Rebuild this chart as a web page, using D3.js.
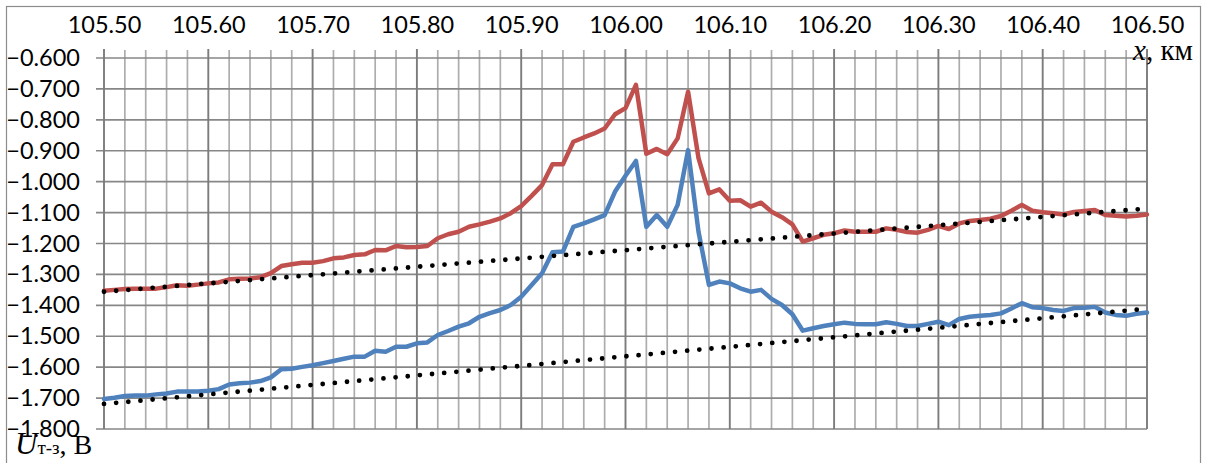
<!DOCTYPE html>
<html>
<head>
<meta charset="utf-8">
<script src="https://cdn.jsdelivr.net/npm/d3@7"></script>
<style>
  html, body { margin: 0; padding: 0; background: #fff; }
  svg { display: block; }
</style>
</head>
<body>
<svg id="chart" width="1208" height="463"></svg>
<script>
// Distance along the line, km (step 0.01 km)
const distanceKm = d3.range(0, 101).map(i => +(105.5 + i * 0.01).toFixed(2));

// Pipe-to-soil potential U т-з, V — upper (red) series
const seriesUpper = [
  -1.353, -1.350, -1.347, -1.346, -1.346, -1.346, -1.341, -1.335, -1.337, -1.333,
  -1.329, -1.326, -1.316, -1.314, -1.313, -1.309, -1.296, -1.273, -1.267, -1.262,
  -1.262, -1.257, -1.248, -1.245, -1.237, -1.235, -1.221, -1.222, -1.208, -1.212,
  -1.211, -1.208, -1.183, -1.170, -1.162, -1.146, -1.138, -1.129, -1.119, -1.102,
  -1.079, -1.046, -1.011, -0.944, -0.944, -0.871, -0.857, -0.844, -0.828, -0.782,
  -0.762, -0.687, -0.910, -0.894, -0.911, -0.860, -0.709, -0.924, -1.038, -1.025,
  -1.062, -1.060, -1.081, -1.068, -1.097, -1.115, -1.138, -1.194, -1.183, -1.172,
  -1.167, -1.158, -1.162, -1.162, -1.162, -1.151, -1.156, -1.163, -1.165, -1.156,
  -1.143, -1.153, -1.135, -1.127, -1.124, -1.120, -1.111, -1.094, -1.075, -1.094,
  -1.099, -1.102, -1.106, -1.098, -1.095, -1.092, -1.108, -1.110, -1.113, -1.110,
  -1.106
];

// Lower (blue) series
const seriesLower = [
  -1.703, -1.699, -1.693, -1.692, -1.692, -1.688, -1.685, -1.679, -1.679, -1.679,
  -1.676, -1.671, -1.656, -1.652, -1.650, -1.645, -1.633, -1.607, -1.605, -1.599,
  -1.594, -1.587, -1.580, -1.573, -1.566, -1.566, -1.547, -1.550, -1.534, -1.534,
  -1.523, -1.520, -1.496, -1.483, -1.469, -1.458, -1.437, -1.425, -1.415, -1.399,
  -1.372, -1.334, -1.296, -1.228, -1.226, -1.146, -1.135, -1.122, -1.108, -1.032,
  -0.981, -0.933, -1.146, -1.108, -1.146, -1.075, -0.898, -1.162, -1.334, -1.323,
  -1.329, -1.345, -1.356, -1.350, -1.379, -1.399, -1.429, -1.482, -1.474, -1.467,
  -1.461, -1.456, -1.460, -1.461, -1.461, -1.455, -1.460, -1.467, -1.467, -1.460,
  -1.453, -1.464, -1.444, -1.437, -1.434, -1.431, -1.426, -1.410, -1.393, -1.406,
  -1.409, -1.415, -1.418, -1.409, -1.408, -1.405, -1.423, -1.431, -1.434, -1.427,
  -1.423
];

// Linear trend lines: values at the start and end of the section
const trendKm = [105.5, 106.5];
const trendUpper = [-1.356, -1.087];
const trendLower = [-1.719, -1.411];

// Axis ticks
const xMajorTicks = d3.range(0, 11).map(i => +(105.5 + i * 0.1).toFixed(2));
const xMinorTicks = d3.range(0, 51).map(i => +(105.5 + i * 0.02).toFixed(2));
const yTicks = d3.range(0, 13).map(i => +(-1.8 + i * 0.1).toFixed(1));

const svg = d3.select("#chart");

const x = d3.scaleLinear().domain([105.5, 106.5]).range([104, 1147]);
const y = d3.scaleLinear().domain([-1.8, -0.6]).range([429, 58]);

// outer frame
svg.append("rect")
  .attr("x", 6.5).attr("y", 6.5)
  .attr("width", 1194).attr("height", 470)
  .attr("fill", "#fff").attr("stroke", "#8c8c8c").attr("stroke-width", 1.2);

const grid = svg.append("g");

// minor vertical grid
grid.selectAll("line.vminor")
  .data(xMinorTicks.filter((d, i) => i % 5 !== 0))
  .join("line")
  .attr("x1", d => x(d)).attr("x2", d => x(d))
  .attr("y1", y(-0.6) - 8).attr("y2", y(-1.8))
  .attr("stroke", "#adadad").attr("stroke-width", 1.7);

// horizontal grid with short ticks on the left
grid.selectAll("line.h")
  .data(yTicks)
  .join("line")
  .attr("x1", x(105.5) - 8).attr("x2", x(106.5))
  .attr("y1", d => y(d)).attr("y2", d => y(d))
  .attr("stroke", "#878787").attr("stroke-width", 1.7);

// major vertical grid
grid.selectAll("line.vmajor")
  .data(xMajorTicks)
  .join("line")
  .attr("x1", d => x(d)).attr("x2", d => x(d))
  .attr("y1", y(-0.6) - 9).attr("y2", y(-1.8))
  .attr("stroke", "#7c7c7c").attr("stroke-width", 1.9);

// top axis labels
const xAxis = d3.axisTop(x)
  .tickValues(xMajorTicks)
  .tickFormat(d3.format(".2f"))
  .tickSize(0)
  .tickPadding(25);
const gx = svg.append("g").attr("transform", `translate(0,${y(-0.6)})`).call(xAxis);
gx.select(".domain").remove();
gx.selectAll("text")
  .attr("font-family", "Lato, 'Open Sans', sans-serif")
  .attr("font-size", 23.5)
  .attr("fill", "#000");

// left axis labels
const yAxis = d3.axisLeft(y)
  .tickValues(yTicks)
  .tickFormat(d3.format(".3f"))
  .tickSize(0)
  .tickPadding(24);
const gy = svg.append("g").attr("transform", `translate(${x(105.5)},0)`).call(yAxis);
gy.select(".domain").remove();
gy.selectAll("text")
  .attr("font-family", "Lato, 'Open Sans', sans-serif")
  .attr("font-size", 23.5)
  .attr("fill", "#000");

// measured series
const line = d3.line().x((d, i) => x(distanceKm[i])).y(d => y(d));
svg.append("path")
  .attr("d", line(seriesUpper))
  .attr("fill", "none").attr("stroke", "#C0504D")
  .attr("stroke-width", 4.5).attr("stroke-linejoin", "round").attr("stroke-linecap", "round");
svg.append("path")
  .attr("d", line(seriesLower))
  .attr("fill", "none").attr("stroke", "#4F81BD")
  .attr("stroke-width", 4.5).attr("stroke-linejoin", "round").attr("stroke-linecap", "round");

// dotted trend lines
const trendLine = d3.line().x((d, i) => x(trendKm[i])).y(d => y(d));
[trendUpper, trendLower].forEach(t => {
  svg.append("path")
    .attr("d", trendLine(t))
    .attr("fill", "none").attr("stroke", "#000")
    .attr("stroke-width", 4.8).attr("stroke-linecap", "round")
    .attr("stroke-dasharray", "0 12.2");
});

// axis titles
const xt = svg.append("text")
  .attr("x", 1133).attr("y", 60)
  .attr("font-family", "'Liberation Serif', 'Times New Roman', serif")
  .attr("font-size", 29).attr("fill", "#000");
xt.append("tspan").attr("font-style", "italic").text("x");
xt.append("tspan").text(", км");

const yt = svg.append("text")
  .attr("x", 15).attr("y", 454)
  .attr("font-family", "'Liberation Serif', 'Times New Roman', serif")
  .attr("font-size", 28).attr("fill", "#000");
yt.append("tspan").attr("font-style", "italic").attr("font-size", 31).text("U");
yt.append("tspan").attr("font-size", 19).text("т-з");
yt.append("tspan").text(", В");
</script>
</body>
</html>
